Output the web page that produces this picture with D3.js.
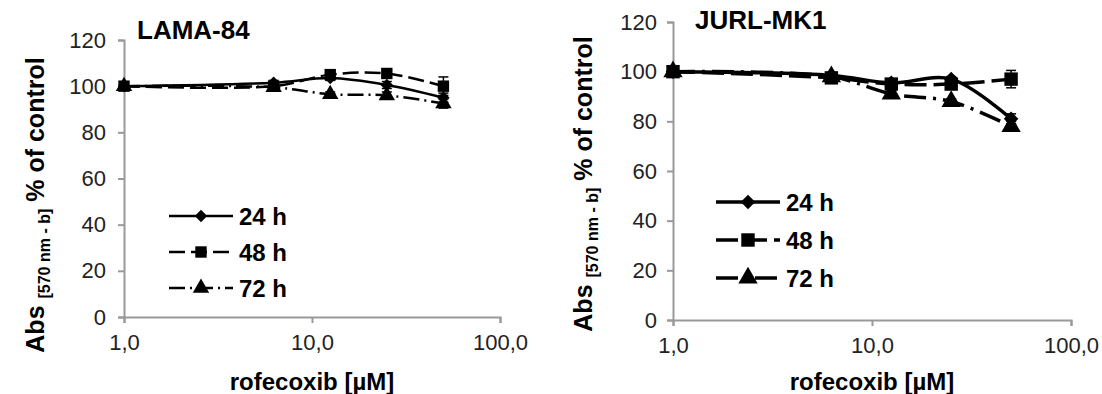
<!DOCTYPE html>
<html>
<head>
<meta charset="utf-8">
<script src="https://cdn.jsdelivr.net/npm/d3@7"></script>
<style>
  html, body { margin: 0; padding: 0; background: #fff; }
  svg { display: block; font-family: 'Liberation Sans', Arial, sans-serif; }
</style>
</head>
<body>
<svg id="chart" width="1102" height="394"></svg>
<script>
const concentrations = [1, 6.25, 12.5, 25, 50]
const seriesNames = ['24 h', '48 h', '72 h']
const xTicks = [1, 10, 100]
const yTicks = [0, 20, 40, 60, 80, 100, 120]

const lamaTitle = 'LAMA-84'
const lama24 = [100, 101.5, 103.5, 100.5, 95]
const lama48 = [100, 100, 105, 105.5, 100]
const lama72 = [100, 99.5, 96.5, 96, 92.5]
const lamaErr24 = [0.5, 1, 1, 1.5, 2]
const lamaErr48 = [0.5, 1, 1.5, 1.5, 4]
const lamaErr72 = [0.5, 1, 1, 1.5, 2]

const jurlTitle = 'JURL-MK1'
const jurl24 = [100, 98.5, 95.5, 97, 81]
const jurl48 = [100, 97.5, 95, 95, 97]
const jurl72 = [100, 98, 91, 88, 78]
const jurlErr24 = [0.5, 1, 1, 1, 2]
const jurlErr48 = [0.5, 1, 1.5, 1.5, 3.5]
const jurlErr72 = [0.5, 1, 1, 1, 2]

const svg = d3.select('#chart')
const fmt = (v) => v.toFixed(1).replace('.', ',')
const markerTypes = [d3.symbolDiamond2, d3.symbolSquare, d3.symbolTriangle]
const markerScale = [0.75, 1, 0.9]

function drawPanel(cfg) {
	const x = d3.scaleLog().domain([1, 100]).range([cfg.x0, cfg.x1])
	const y = d3.scaleLinear().domain([0, 120]).range([cfg.y0, cfg.y1])
	const g = svg.append('g')

	// axes
	const yAxis = g.append('g')
		.attr('transform', `translate(${cfg.x0},0)`)
		.call(d3.axisLeft(y).tickValues(yTicks).tickSize(6).tickPadding(cfg.yPad))
	const xAxis = g.append('g')
		.attr('transform', `translate(0,${cfg.y0})`)
		.call(d3.axisBottom(x).tickValues(xTicks).tickFormat(fmt).tickSize(6).tickPadding(11))
	for (const ax of [yAxis, xAxis]) {
		ax.select('.domain').attr('stroke', '#999').attr('stroke-width', 2)
		ax.selectAll('.tick line').attr('stroke', '#999').attr('stroke-width', 2)
		ax.selectAll('.tick text').attr('fill', '#222').style('font-size', '22px')
	}

	const series = seriesNames.map((name, i) => ({
		name,
		values: cfg.values[i],
		errors: cfg.errors[i],
		dash: cfg.dashes[i],
		marker: d3.symbol().type(markerTypes[i]).size(cfg.markerSize * markerScale[i])
	}))

	const line = d3.line()
		.x((d) => x(d[0]))
		.y((d) => y(d[1]))
		.curve(d3.curveCatmullRom.alpha(0.5))

	// error bars
	series.forEach((s) => {
		const eg = g.append('g').attr('stroke', '#000').attr('stroke-width', 1.5)
		s.values.forEach((v, j) => {
			const cx = x(concentrations[j])
			eg.append('line').attr('x1', cx).attr('x2', cx).attr('y1', y(v - s.errors[j])).attr('y2', y(v + s.errors[j]))
			for (const e of [v - s.errors[j], v + s.errors[j]]) {
				eg.append('line').attr('x1', cx - 5).attr('x2', cx + 5).attr('y1', y(e)).attr('y2', y(e))
			}
		})
	})

	series.forEach((s) => {
		const pts = s.values.map((v, j) => [concentrations[j], v])
		g.append('path')
			.attr('d', line(pts))
			.attr('fill', 'none')
			.attr('stroke', '#000')
			.attr('stroke-width', cfg.lineWidth)
			.attr('stroke-dasharray', s.dash)
		g.selectAll(null)
			.data(pts)
			.join('path')
			.attr('transform', (d) => `translate(${x(d[0])},${y(d[1])})`)
			.attr('d', s.marker())
			.attr('fill', '#000')
	})

	// legend
	series.forEach((s, i) => {
		const ly = cfg.legendY + i * cfg.legendGap
		const lg = g.append('g')
		lg.append('line')
			.attr('x1', cfg.legendX).attr('x2', cfg.legendX + cfg.legendLen)
			.attr('y1', ly).attr('y2', ly)
			.attr('stroke', '#000').attr('stroke-width', cfg.lineWidth)
			.attr('stroke-dasharray', s.dash)
		lg.append('path')
			.attr('transform', `translate(${cfg.legendX + cfg.legendLen / 2},${ly})`)
			.attr('d', s.marker())
		lg.append('text')
			.attr('x', cfg.legendX + cfg.legendLen + 6)
			.attr('y', ly)
			.attr('dy', '0.36em')
			.style('font-size', '24px')
			.style('font-weight', 'bold')
			.text(s.name)
	})

	// title
	g.append('text')
		.attr('x', cfg.titleX).attr('y', cfg.titleY)
		.style('font-size', '26px').style('font-weight', 'bold')
		.text(cfg.title)

	// x label
	g.append('text')
		.attr('x', (cfg.x0 + cfg.x1) / 2).attr('y', 390)
		.attr('text-anchor', 'middle')
		.style('font-size', '24px').style('font-weight', 'bold')
		.text('rofecoxib [µM]')

	// y label
	const yl = g.append('text')
		.attr('transform', `translate(${cfg.ylabelX},${cfg.ylabelY}) rotate(-90)`)
		.attr('text-anchor', 'middle')
		.style('font-weight', 'bold')
		.style('font-size', '25px')
	yl.append('tspan').text('Abs ')
	yl.append('tspan').attr('dy', 6).style('font-size', '16px').text('[570 nm - b]')
	yl.append('tspan').attr('dy', -6).text(' % of control')
}

drawPanel({
	x0: 124, x1: 500, y0: 317, y1: 40,
	values: [lama24, lama48, lama72],
	errors: [lamaErr24, lamaErr48, lamaErr72],
	dashes: [null, '16,6', '16,5,2,5'],
	lineWidth: 2.5, markerSize: 130, yPad: 12,
	legendX: 169, legendLen: 64, legendY: 216, legendGap: 36,
	title: lamaTitle, titleX: 137, titleY: 39,
	ylabelX: 44, ylabelY: 205
})

drawPanel({
	x0: 673, x1: 1071, y0: 320, y1: 22,
	values: [jurl24, jurl48, jurl72],
	errors: [jurlErr24, jurlErr48, jurlErr72],
	dashes: [null, '22,7', '22,7,3,7'],
	lineWidth: 3.5, markerSize: 180, yPad: 10,
	legendX: 716, legendLen: 64, legendY: 202, legendGap: 38,
	title: jurlTitle, titleX: 695, titleY: 29,
	ylabelX: 592, ylabelY: 184
})
</script>
</body>
</html>
